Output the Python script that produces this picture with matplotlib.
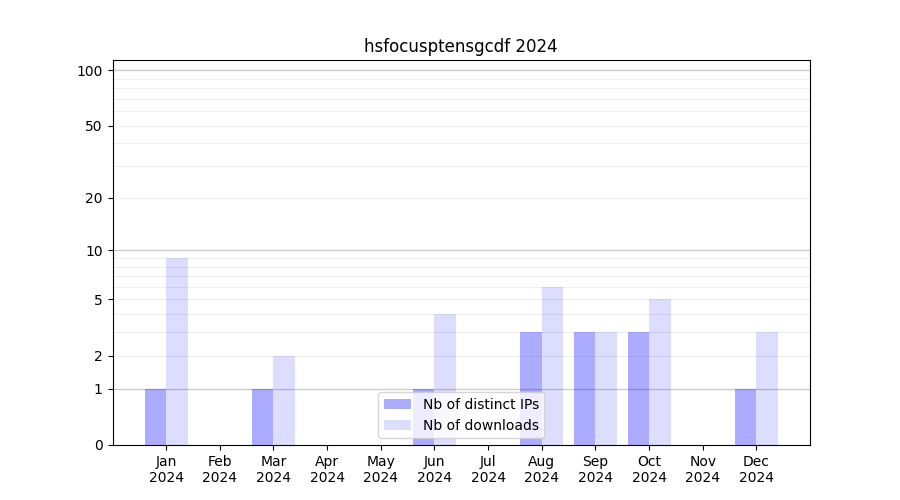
import numpy as np
import matplotlib
matplotlib.use("Agg")
import matplotlib.pyplot as plt
from matplotlib.ticker import FixedLocator

months = ["Jan", "Feb", "Mar", "Apr", "May", "Jun", "Jul", "Aug", "Sep", "Oct", "Nov", "Dec"]
year = "2024"
distinct_ips = [1, 0, 1, 0, 0, 1, 0, 3, 3, 3, 0, 1]
downloads = [9, 0, 2, 0, 0, 4, 0, 6, 3, 5, 0, 3]

major_ticks = [0, 1, 2, 5, 10, 20, 50, 100]
minor_grid = [2, 3, 4, 5, 6, 7, 8, 9, 20, 30, 40, 50, 60, 70, 80, 90]


def fwd(y):
    return np.log10(1 + np.clip(y, 0, None))


def inv(y):
    return 10 ** y - 1


fig, ax = plt.subplots(figsize=(9, 5), dpi=100)
x = np.arange(len(months))
w = 0.4

ax.set_yscale("function", functions=(fwd, inv))
ax.bar(x - w / 2, distinct_ips, w, color="blue", alpha=0.33, label="Nb of distinct IPs", zorder=2)
ax.bar(x + w / 2, downloads, w, color="blue", alpha=0.133, label="Nb of downloads", zorder=2)

for v in [1, 10, 100]:
    ax.axhline(v, color="#cccccc", lw=1, zorder=1)
for v in minor_grid:
    ax.axhline(v, color="#eeeeee", lw=0.8, zorder=1)

ax.set_ylim(0, 113.5)
ax.yaxis.set_major_locator(FixedLocator(major_ticks))
ax.set_yticklabels([str(t) for t in major_ticks])
ax.yaxis.set_minor_locator(FixedLocator([]))

ax.set_xlim(-1, 12)
ax.set_xticks(x)
ax.set_xticklabels([m + "\n" + year for m in months])

ax.set_title("hsfocusptensgcdf 2024")
ax.legend(loc="lower center")

fig.subplots_adjust(left=0.125, right=0.9, top=0.88, bottom=0.11)
fig.savefig("out.png")
